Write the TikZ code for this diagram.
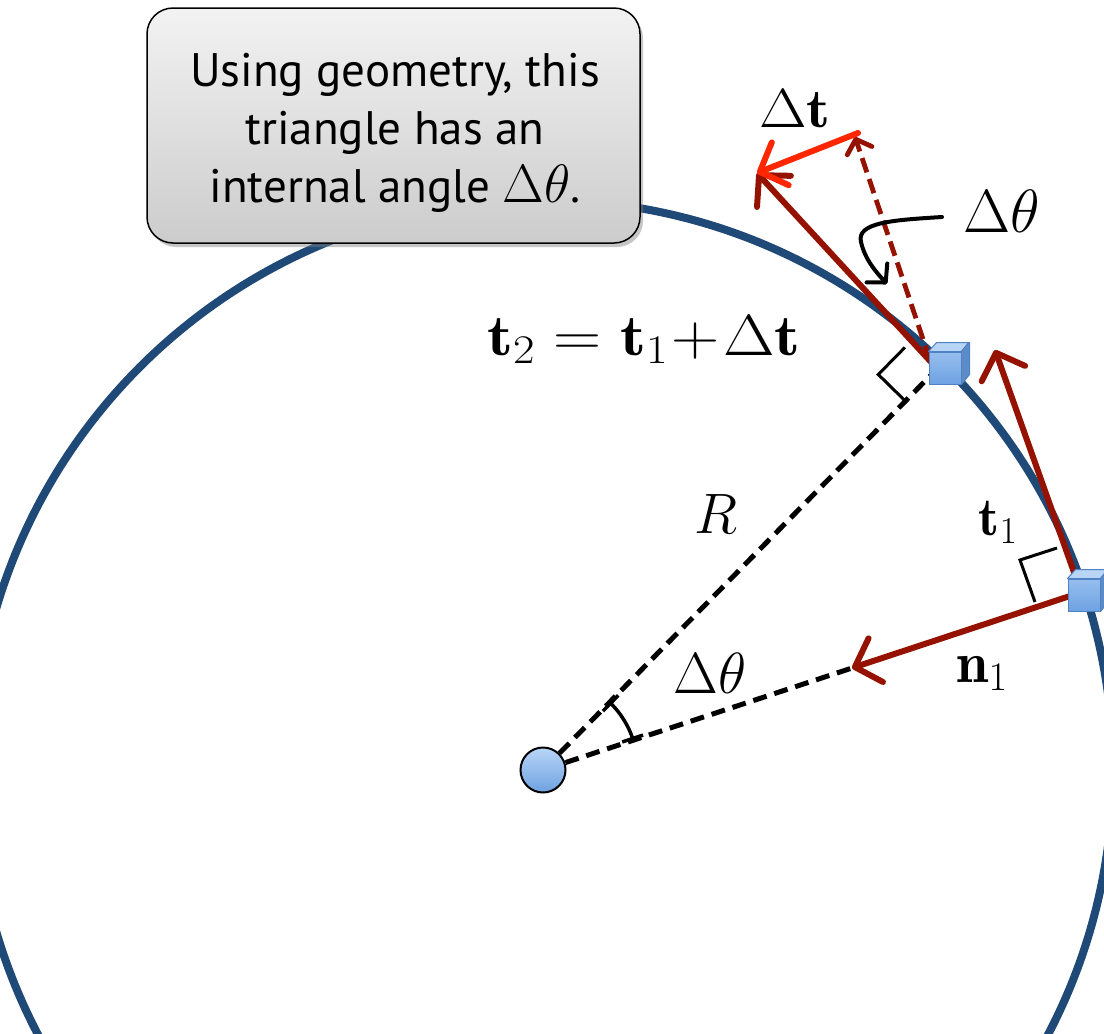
\documentclass[tikz,border=0pt]{standalone}
\usepackage{fix-cm}
\usepackage{fontspec}
\setsansfont{PT Sans}
\usetikzlibrary{arrows.meta,shadows,calc}
\definecolor{circblue}{RGB}{31,73,119}
\definecolor{darkred}{RGB}{150,18,0}
\definecolor{brightred}{RGB}{255,38,0}
\definecolor{cubefront}{RGB}{110,162,226}
\definecolor{cubefrontlt}{RGB}{150,190,238}
\definecolor{cubetop}{RGB}{185,213,246}
\definecolor{cubeside}{RGB}{92,140,200}
\definecolor{cubeedge}{RGB}{80,130,195}
\tikzset{
  redarrow/.style={darkred, line width=6pt, line cap=round, -{Straight Barb[round,length=22pt,width=46pt]}},
  dtarrow/.style={brightred, line width=6pt, line cap=round, -{Straight Barb[round,length=22pt,width=46pt]}},
  reddash/.style={darkred, line width=4.8pt, dash pattern=on 15pt off 7pt, -{Straight Barb[round,length=12pt,width=26pt]}},
  blackdash/.style={black, line width=5pt, dash pattern=on 14pt off 8pt},
  rightangle/.style={black, line width=3pt},
  mlabel/.style={anchor=base, inner sep=0pt},
  cubeface/.style={draw=cubeedge, line width=1pt, line join=round},
}
\newcommand{\fs}[1]{\fontsize{#1}{#1}\selectfont}
\begin{document}
\begin{tikzpicture}[x=1pt,y=-1pt]
\useasboundingbox (0,0) rectangle (1104,1034);
\begin{scope}
\clip (0,0) rectangle (1104,1034);
% big circle
\draw[circblue, line width=8pt] (543,770) circle (570);

% centre disk
\node[circle, draw=black, line width=2pt, minimum size=45pt, inner sep=0pt,
      top color=cubetop, bottom color=cubefront] (O) at (543,770) {};

% key points
\coordinate (A2) at (932,374);
\coordinate (B2) at (905.4,401.1);
\coordinate (C2) at (878.3,374.5);
\coordinate (D2) at (904.9,347.4);
\coordinate (B1) at (1035,602);
\coordinate (C1) at (1020,560);
\coordinate (D1) at (1057,548);
\coordinate (T2s) at (931,362);
\coordinate (T2e) at (757,173);
\coordinate (Cps) at (930,360);
\coordinate (Cpe) at (855,137);
\coordinate (Dts) at (858,133);
\coordinate (T1s) at (1076,578);
\coordinate (T1e) at (995,350);
\coordinate (N1s) at (1070,596);
\coordinate (N1e) at (852,668);
\coordinate (Cs) at (942,217);
\coordinate (Ce) at (887,284);

% dashed radial lines
\draw[blackdash] (O) -- (A2);
\draw[blackdash] (O) -- (N1e);

% angle arc
\draw[black, line width=3.5pt, {Bar[width=22pt]}-{Bar[width=22pt]}]
  (543,770) ++(-45.7:95) arc (-45.7:-18.3:95);

% right angle markers
\draw[rightangle] (B2) -- (C2) -- (D2);
\draw[rightangle] (B1) -- (C1) -- (D1);

% vectors
\draw[reddash] (Cps) -- (Cpe);
\draw[redarrow] (T2s) -- (T2e);
\draw[dtarrow] (Dts) -- (T2e);
\draw[redarrow] (T1s) -- (T1e);
\draw[redarrow] (N1s) -- (N1e);

% curved pointer
\draw[black, line width=4pt, line cap=round, -{Straight Barb[round,length=13pt,width=28pt]}]
  (Cs) .. controls (895,220) and (856,222) .. (861,242)
       .. controls (865,260) and (877,273) .. (Ce);

% cubes
\node[cubeface, minimum size=32pt, inner sep=0pt, top color=cubefrontlt, bottom color=cubefront] (cube2) at (945,368) {};
\filldraw[cubeface, fill=cubetop] (cube2.north west) -- ++(8,-9) -- ++(32,0) -- (cube2.north east) -- cycle;
\filldraw[cubeface, fill=cubeside] (cube2.north east) -- ++(8,-9) -- ++(0,32) -- (cube2.south east) -- cycle;
\node[cubeface, minimum size=32pt, inner sep=0pt, top color=cubefrontlt, bottom color=cubefront] (cube1) at (1084,595) {};
\filldraw[cubeface, fill=cubetop] (cube1.north west) -- ++(8,-9) -- ++(32,0) -- (cube1.north east) -- cycle;
\filldraw[cubeface, fill=cubeside] (cube1.north east) -- ++(8,-9) -- ++(0,32) -- (cube1.south east) -- cycle;

% labels
\node[mlabel, font=\fs{55}] (ldt) at (795,127) {\scalebox{1.12}[1]{$\Delta\mathbf{t}$}};
\node[mlabel, font=\fs{61}] (ldth) at (1002,232) {$\Delta\theta$};
\node[mlabel, font=\fs{58}] (leq) at (644,355) {\scalebox{1.15}[1]{$\mathbf{t}_2=\mathbf{t}_1\mkern1mu{+}\mkern1mu\Delta\mathbf{t}$}};
\node[mlabel, font=\fs{57}] (lR) at (716,533) {$R$};
\node[mlabel, font=\fs{54}] (lt1) at (998,535) {$\mathbf{t}_1$};
\node[mlabel, font=\fs{58}] (ln1) at (982,682) {$\mathbf{n}_1$};
\node[mlabel, font=\fs{58}] (lth) at (710,693) {$\Delta\theta$};

% callout box
\node[draw=black, line width=1.5pt, rounded corners=26pt,
      top color=white!95!black, bottom color=white!80!black,
      drop shadow={shadow xshift=3pt, shadow yshift=-4pt, opacity=0.45},
      minimum width=493pt, minimum height=235pt, inner sep=0pt] (box) at (393.5,125.5) {};
\node[inner sep=0pt, align=center, font=\sffamily\fontsize{47}{58}\selectfont] (boxtext) at (395,133)
  {Using geometry, this\\ triangle has an\\ internal angle {\fontsize{54}{58}\selectfont$\Delta\theta$}.};
\end{scope}
\end{tikzpicture}
\end{document}
